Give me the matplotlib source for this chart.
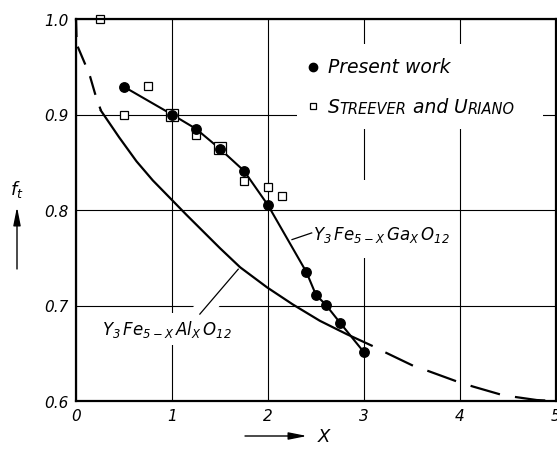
import matplotlib
matplotlib.use("Agg")
import matplotlib.pyplot as plt
import matplotlib.patheffects as pe
from matplotlib.patches import Rectangle

# values
present_x = [0.5, 1.0, 1.25, 1.5, 1.75, 2.0, 2.4, 2.5, 2.6, 2.75, 3.0]
present_y = [0.929, 0.900, 0.885, 0.864, 0.841, 0.805, 0.735, 0.711, 0.701, 0.682, 0.651]

streever_x = [0.25, 0.5, 0.75, 1.0, 1.25, 1.5, 1.75, 2.0, 2.15]
streever_y = [1.000, 0.900, 0.930, 0.900, 0.879, 0.865, 0.830, 0.824, 0.815]

# Y3Fe(5-x)Ga(x)O12 curve, traced through the filled points
ga_x = [0.5, 1.0, 1.25, 1.5, 1.75, 2.0, 2.4, 2.5, 2.6, 2.75, 3.0]
ga_y = [0.929, 0.900, 0.885, 0.864, 0.841, 0.805, 0.735, 0.711, 0.701, 0.682, 0.651]

# Y3Fe(5-x)Al(x)O12 curve: measured part and dashed extrapolations
al_x = [0.26, 0.45, 0.63, 0.8, 0.98, 1.15, 1.29, 1.5, 1.71, 1.99, 2.26, 2.54, 2.82, 3.08]
al_y = [0.904, 0.876, 0.851, 0.831, 0.8125, 0.795, 0.781, 0.760, 0.740, 0.719, 0.701, 0.684, 0.670, 0.658]
al_top_x = [0.0, 0.005, 0.014, 0.094, 0.146, 0.198, 0.26]
al_top_y = [1.000, 0.982, 0.972, 0.953, 0.940, 0.922, 0.904]
al_tail_x = [3.08, 3.22, 3.51, 3.68, 3.98, 4.14, 4.45, 4.8, 5.0]
al_tail_y = [0.658, 0.651, 0.637, 0.631, 0.620, 0.615, 0.606, 0.601, 0.600]

x_ticks = [0, 1, 2, 3, 4, 5]
x_tick_labels = ["0", "1", "2", "3", "4", "5"]
y_ticks = [0.6, 0.7, 0.8, 0.9, 1.0]
y_tick_labels = ["0.6", "0.7", "0.8", "0.9", "1.0"]

plt.rcParams["font.family"] = ["DejaVu Sans"]
plt.rcParams["font.style"] = "italic"
plt.rcParams["mathtext.fontset"] = "dejavusans"
plt.rcParams["lines.scale_dashes"] = False

W, H = 557, 452
fig = plt.figure(figsize=(W / 100, H / 100), dpi=100)
ax = fig.add_axes([76 / W, 1 - 402 / H, 480 / W, 382 / H])
ax.set_xlim(0, 5)
ax.set_ylim(0.6, 1.0)

# grid drawn by hand so the labels can cut gaps into it
ax.vlines(x_ticks, 0.6, 1.0, color="k", lw=0.8, zorder=0.6)
ax.add_patch(Rectangle((2.96, 0.75), 0.08, 0.081, fc="white", ec="none", zorder=0.7))
ax.hlines(y_ticks, 0, 5, color="k", lw=0.8, zorder=0.8)
ax.add_patch(Rectangle((2.30, 0.885), 2.56, 0.089, fc="white", ec="none", zorder=0.9))

for s in ax.spines.values():
    s.set_linewidth(1.6)
    s.set_zorder(5)

ax.set_xticks(x_ticks)
ax.set_xticklabels(x_tick_labels, fontsize=11)
ax.set_yticks(y_ticks)
ax.set_yticklabels(y_tick_labels, fontsize=11)
ax.tick_params(length=0, pad=5)

# curves
ax.plot(ga_x, ga_y, color="k", lw=1.5, zorder=2)
ax.plot(al_x, al_y, color="k", lw=1.6, zorder=2)
ax.plot(al_top_x, al_top_y, color="k", lw=1.6, zorder=2,
        linestyle=(0, (13, 7, 14, 9, 14, 9)), clip_on=False)
ax.plot(al_tail_x, al_tail_y, color="k", lw=1.6, zorder=2,
        linestyle=(22, (22, 11)), clip_on=False)

# points: squares enlarged where they coincide with a filled point
for sx, sy in zip(streever_x, streever_y):
    big = any(abs(sx - px) < 1e-6 and abs(sy - py) < 0.003
              for px, py in zip(present_x, present_y))
    ax.plot(sx, sy, "s", ms=8.5 if big else 5.5, mfc="white", mec="k",
            mew=0.9, zorder=3, clip_on=False)
ax.plot(present_x, present_y, "o", ms=6.8, color="k", zorder=4)

# legend, drawn by hand to get the small capitals
ax.plot([2.47], [0.950], "o", ms=6, color="k", zorder=4)
ax.text(2.625, 0.944, "Present work", fontsize=13.5, zorder=4)
ax.plot([2.465], [0.909], "s", ms=4.5, mfc="white", mec="k", mew=0.9, zorder=4)
parts = [("S", 13.5), ("TREEVER", 10.5), (" and ", 13.5), ("U", 13.5), ("RIANO", 10.5)]
prev = ax.text(2.625, 0.903, parts[0][0], fontsize=parts[0][1], zorder=4)
for txt, size in parts[1:]:
    prev = ax.annotate(txt, xy=(1, 0), xycoords=prev, va="bottom", ha="left",
                       fontsize=size, zorder=4)

# curve labels with leader lines
white = [pe.Stroke(linewidth=14, foreground="white", capstyle="butt")]
ax.plot([1.29, 1.69], [0.691, 0.738], color="white", lw=0.01, zorder=0.9,
        path_effects=white)
ax.plot([1.29, 1.69], [0.691, 0.738], color="k", lw=0.9, zorder=2)
ax.text(0.27, 0.670, r"$\mathit{Y_3\,Fe_{5-X}\,Al_X\,O_{12}}$", fontsize=12,
        zorder=1, bbox=dict(fc="white", ec="none", pad=4))
ax.plot([2.25, 2.455], [0.769, 0.776], color="k", lw=0.9, zorder=2)
ax.text(2.47, 0.770, r"$\mathit{Y_3\,Fe_{5-X}\,Ga_X\,O_{12}}$", fontsize=12,
        zorder=1, bbox=dict(fc="white", ec="none", pad=2))

# axis labels with arrows
fig.text(17 / W, 1 - 189 / H, r"$f_t$", fontsize=13, ha="center", va="center")
ax.annotate("", xy=(17, H - 208), xycoords="figure pixels",
            xytext=(17, H - 270), textcoords="figure pixels",
            arrowprops=dict(arrowstyle="-|>,head_length=1.1,head_width=0.22",
                            lw=1, color="k", shrinkA=0, shrinkB=0, mutation_scale=10))
ax.annotate("", xy=(307, H - 437), xycoords="figure pixels",
            xytext=(245, H - 437), textcoords="figure pixels",
            arrowprops=dict(arrowstyle="-|>,head_length=1.1,head_width=0.22",
                            lw=1, color="k", shrinkA=0, shrinkB=0, mutation_scale=10))
fig.text(324 / W, 1 - 437 / H, "X", fontsize=13, ha="center", va="center")

fig.savefig("out.png", dpi=100)
